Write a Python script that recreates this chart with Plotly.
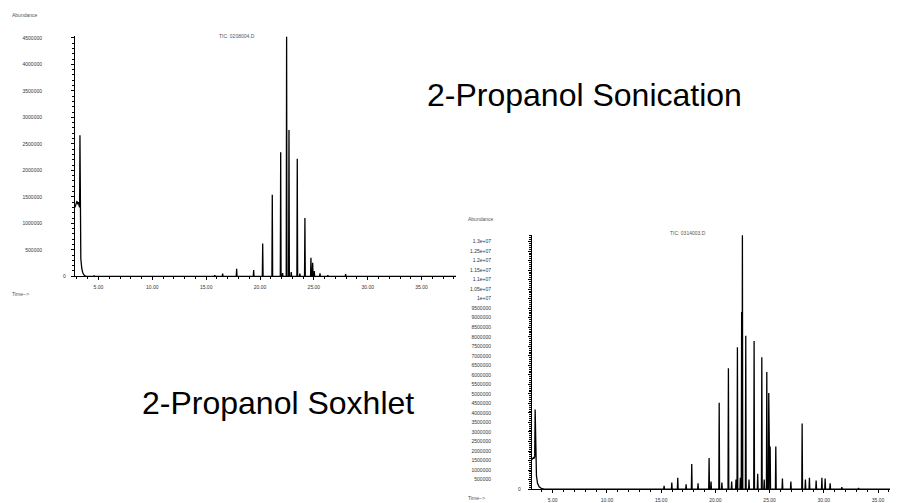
import plotly.graph_objects as go

# ---------------- Data: 2-Propanol Sonication (TIC: 0208004.D) ----------------
son_front_time = [2.82, 2.90, 3.00, 3.08, 3.14, 3.20, 3.25, 3.28, 3.31, 3.36, 3.45, 3.55, 3.70, 3.85]
son_front_abund = [1300000, 1380000, 1420000, 1360000, 1400000, 1330000, 1300000, 2660000, 900000, 330000, 150000, 60000, 15000, 0]
son_peak_time = [4.6, 15.8, 16.53, 17.83, 19.41, 20.25, 21.14, 21.92, 22.1, 22.47, 22.69, 22.9,
                 23.46, 23.7, 24.17, 24.73, 24.89, 25.04, 25.57, 26.3, 27.95]
son_peak_abund = [15000, 20000, 50000, 144000, 118000, 619000, 1540000, 2340000, 60000, 4520000, 2760000, 80000,
                  2220000, 50000, 1100000, 350000, 257000, 100000, 56000, 20000, 43000]

# ---------------- Data: 2-Propanol Soxhlet (TIC: 0314003.D) ----------------
sox_front_time = [3.09, 3.15, 3.22, 3.28, 3.34, 3.38, 3.42, 3.50, 3.60, 3.75, 3.95, 4.2]
sox_front_abund = [1550000, 1600000, 1650000, 1600000, 1700000, 4180000, 1500000, 700000, 300000, 120000, 40000, 0]
sox_peak_time = [15.27, 15.98, 16.53, 17.3, 17.82, 18.4, 19.42, 19.6, 20.35, 20.6, 21.2, 21.5, 21.9, 22.03,
                 22.3, 22.42, 22.49, 22.8, 23.1, 23.57, 23.9, 24.28, 24.5, 24.74, 24.92, 25.05, 25.57,
                 26.18, 26.96, 28.0, 28.3, 28.67, 29.29, 29.82, 30.12, 30.58, 31.66, 33.2]
sox_peak_abund = [170000, 350000, 590000, 250000, 1320000, 300000, 1630000, 400000, 4530000, 350000, 6350000,
                  400000, 500000, 7450000, 600000, 9300000, 13330000, 8060000, 500000, 7780000, 800000,
                  6930000, 500000, 6150000, 5050000, 2240000, 2240000, 550000, 400000, 3450000, 500000,
                  600000, 450000, 600000, 550000, 300000, 100000, 60000]

son_x_ticks = [5, 10, 15, 20, 25, 30, 35]
son_x_labels = ["5.00", "10.00", "15.00", "20.00", "25.00", "30.00", "35.00"]
son_y_ticks = [0, 500000, 1000000, 1500000, 2000000, 2500000, 3000000, 3500000, 4000000, 4500000]
son_y_labels = ["", "500000", "1000000", "1500000", "2000000", "2500000", "3000000", "3500000",
                "4000000", "4500000"]

sox_x_ticks = [5, 10, 15, 20, 25, 30, 35]
sox_x_labels = ["5.00", "10.00", "15.00", "20.00", "25.00", "30.00", "35.00"]
sox_y_ticks = [0, 500000, 1000000, 1500000, 2000000, 2500000, 3000000, 3500000, 4000000, 4500000,
               5000000, 5500000, 6000000, 6500000, 7000000, 7500000, 8000000, 8500000, 9000000,
               9500000, 10000000, 10500000, 11000000, 11500000, 12000000, 12500000, 13000000]
sox_y_labels = ["", "500000", "1000000", "1500000", "2000000", "2500000", "3000000", "3500000",
                "4000000", "4500000", "5000000", "5500000", "6000000", "6500000", "7000000",
                "7500000", "8000000", "8500000", "9000000", "9500000", "1e+07", "1.05e+07",
                "1.1e+07", "1.15e+07", "1.2e+07", "1.25e+07", "1.3e+07"]

son_x_range = [2.82, 38.2]
son_y_range = [0, 4540000]
sox_x_range = [3.09, 36.1]
sox_y_range = [0, 13340000]

PEAK_HALF_WIDTH = 0.035


def build_trace(front_t, front_a, peak_t, peak_a, end_t):
    xs = list(front_t)
    ys = list(front_a)
    for t, a in zip(peak_t, peak_a):
        xs += [t - PEAK_HALF_WIDTH, t, t + PEAK_HALF_WIDTH]
        ys += [0, a, 0]
    xs.append(end_t)
    ys.append(0)
    return xs, ys


W, H = 905, 503


def px(x):
    return x / W


def py(y):
    return 1 - y / H


fig = go.Figure()

sx, sy = build_trace(son_front_time, son_front_abund, son_peak_time, son_peak_abund, son_x_range[1])
fig.add_trace(go.Scatter(x=sx, y=sy, mode="lines", line=dict(color="black", width=1.3),
                         xaxis="x", yaxis="y", showlegend=False, hoverinfo="skip"))
ox, oy = build_trace(sox_front_time, sox_front_abund, sox_peak_time, sox_peak_abund, sox_x_range[1])
fig.add_trace(go.Scatter(x=ox, y=oy, mode="lines", line=dict(color="black", width=1.3),
                         xaxis="x2", yaxis="y2", showlegend=False, hoverinfo="skip"))

tick_font = dict(family="Liberation Sans, Arial, sans-serif", size=5, color="#333")

common_x = dict(showgrid=False, zeroline=False, showline=True, linecolor="black", linewidth=1,
                ticks="outside", ticklen=3, tickcolor="black", tickwidth=1, tickfont=tick_font,
                minor=dict(dtick=1, ticks="outside", ticklen=2, tickcolor="black"),
                fixedrange=True, ticklabelstandoff=3)
common_y = dict(showgrid=False, zeroline=False, showline=True, linecolor="black", linewidth=1,
                ticks="outside", ticklen=3, tickcolor="black", tickwidth=1, tickfont=tick_font,
                fixedrange=True)

fig.update_layout(
    width=W, height=H,
    margin=dict(l=0, r=0, t=0, b=0),
    paper_bgcolor="white", plot_bgcolor="white",
    xaxis=dict(common_x, domain=[px(75), px(456)], range=son_x_range, anchor="y",
               tickmode="array", tickvals=son_x_ticks, ticktext=son_x_labels),
    yaxis=dict(common_y, domain=[py(277.5), py(35)], range=son_y_range, anchor="x",
               tickmode="array", tickvals=son_y_ticks, ticktext=son_y_labels,
               minor=dict(dtick=100000, ticks="outside", ticklen=2, tickcolor="black"),
               ticklabelstandoff=28),
    xaxis2=dict(common_x, domain=[px(532), px(890)], range=sox_x_range, anchor="y2",
                tickmode="array", tickvals=sox_x_ticks, ticktext=sox_x_labels),
    yaxis2=dict(common_y, domain=[py(492), py(236)], range=sox_y_range, anchor="x2",
                tickmode="array", tickvals=sox_y_ticks, ticktext=sox_y_labels,
                minor=dict(dtick=100000, ticks="outside", ticklen=2, tickcolor="black"),
                ticklabelstandoff=36),
    font=dict(family="Liberation Sans, Arial, sans-serif"),
)

small = dict(family="Liberation Sans, Arial, sans-serif", size=5, color="#555")
big = dict(family="Liberation Sans, Arial, sans-serif", size=32, color="black")

annots = [
    dict(text="Abundance", x=px(10), y=py(14), font=small, xanchor="left"),
    dict(text="Time-->", x=px(10), y=py(295), font=small, xanchor="left"),
    dict(text="0", x=px(64), y=py(277), font=tick_font, xanchor="center"),
    dict(text="TIC: 0208004.D", x=px(237), y=py(35), font=small, xanchor="center"),
    dict(text="Abundance", x=px(466), y=py(220), font=small, xanchor="left"),
    dict(text="Time-->", x=px(466), y=py(501), font=small, xanchor="left"),
    dict(text="0", x=px(519), y=py(492), font=tick_font, xanchor="center"),
    dict(text="TIC: 0314003.D", x=px(688), y=py(234), font=small, xanchor="center"),
    dict(text="2-Propanol Sonication", x=px(425), y=py(95), font=big, xanchor="left"),
    dict(text="2-Propanol Soxhlet", x=px(140), y=py(405), font=big, xanchor="left"),
]
for a in annots:
    fig.add_annotation(xref="paper", yref="paper", showarrow=False, yanchor="middle", **a)

fig.write_html("out.html",
               config={"displayModeBar": False, "staticPlot": True},
               post_script="document.body.style.margin='0';document.body.style.overflow='hidden';")
